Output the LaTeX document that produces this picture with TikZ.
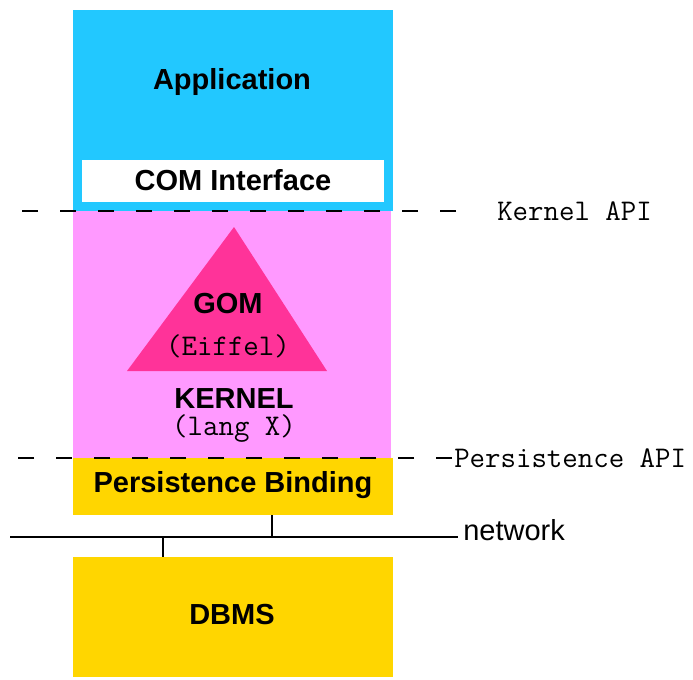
\documentclass[tikz,border=0pt]{standalone}
\usepackage{fontspec}
\setmainfont{Liberation Sans}

\definecolor{appcyan}{HTML}{22C8FF}
\definecolor{kernelpink}{HTML}{FF99FF}
\definecolor{gompink}{HTML}{FF3399}
\definecolor{bindyellow}{HTML}{FFD600}

\begin{document}
\begin{tikzpicture}[x=0.75pt,y=-0.75pt,
    layer/.style={draw=none,inner sep=0pt,minimum width=240pt},
    title/.style={font=\bfseries\fontsize{21.75}{24}\selectfont,inner sep=0pt},
    code/.style={font=\ttfamily\fontsize{22.5}{24}\selectfont,inner sep=0pt},
    apiline/.style={line width=1.4pt,dash pattern=on 12pt off 16.5pt},
    wire/.style={line width=1.1pt}]
    \useasboundingbox (0,0) rectangle (693,679);

    % The layers, top to bottom
    \node[layer,fill=appcyan,minimum height=150.75pt] (app) at (233,110.5) {};
    \node[layer,fill=white,minimum width=226.5pt,minimum height=31.5pt] (com) at (233,181) {};
    \node[layer,fill=kernelpink,minimum width=238pt,minimum height=185.25pt] (kernel) at (232,334.5) {};
    \node[layer,fill=bindyellow,minimum height=42.75pt] (bind) at (233,486.5) {};
    \node[layer,fill=bindyellow,minimum height=90pt] (dbms) at (233,617) {};

    % GOM triangle inside the kernel
    \fill[gompink] (234,227) -- (327,371) -- (127,371) -- cycle;

    % Labels
    \node[title] (apptext) at (232,82) {Application};
    \node[title] (comtext) at (233,180) {COM Interface};
    \node[title] (gomtext) at (228,304) {GOM};
    \node[code] (eiffel) at (228,346) {(Eiffel)};
    \node[title] (kerneltext) at (234,399) {KERNEL};
    \node[code] (langx) at (234,429) {(lang X)};
    \node[title] (bindtext) at (233,485) {Persistence Binding};
    \node[title] (dbmstext) at (232,615) {DBMS};

    % API boundaries (drawn right to left so a full dash ends each line)
    \draw[apiline] (456,211) -- (22,211);
    \node[code,anchor=west] (kapi) at (497,211) {Kernel API};
    \draw[apiline] (452,458) -- (18,458);
    \node[code,anchor=west] (papi) at (454,458) {Persistence API};

    % Network
    \coordinate (netL) at (10,537);
    \coordinate (netR) at (458,537);
    \coordinate (tapA) at (272,537);
    \coordinate (tapB) at (163,537);
    \draw[wire] (netL) -- (netR);
    \node[font=\fontsize{21.75}{24}\selectfont,inner sep=0pt,anchor=west] (net) at (463,530) {network};
    \draw[wire] (tapA |- bind.south) -- (tapA);
    \draw[wire] (tapB) -- (tapB |- dbms.north);
\end{tikzpicture}
\end{document}
